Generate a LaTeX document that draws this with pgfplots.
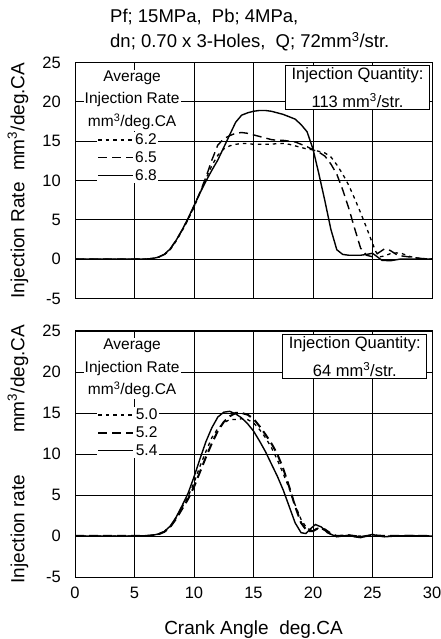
\documentclass[border=0pt]{standalone}
\usepackage{pgfplots}
\pgfplotsset{compat=1.18}
\usepackage{fontspec}
\setmainfont{Liberation Sans}
\newcommand{\tickfont}{\fontsize{16.5bp}{19bp}\selectfont}
\newcommand{\labfont}{\fontsize{19bp}{22bp}\selectfont}
\newcommand{\titfont}{\fontsize{18.5bp}{22bp}\selectfont}
\newcommand{\legfont}{\fontsize{15.5bp}{22.5bp}\selectfont}
\newcommand{\boxfont}{\fontsize{16.5bp}{28bp}\selectfont}
\pgfplotsset{
 myaxis/.style={
  scale only axis, width=357bp,
  xmin=0, xmax=30, ymin=-5, ymax=25,
  xtick={0,5,...,30}, ytick={-5,0,...,25},
  xmajorgrids=true, ymajorgrids=true,
  major grid style={black, line width=0.8bp},
  axis line style={black, line width=1bp},
  major tick length=0pt,
  every tick label/.append style={font=\tickfont},
  every y tick label/.append style={inner sep=0pt, anchor=east, xshift=-14bp},
  every x tick label/.append style={inner sep=0pt, anchor=north, yshift=-10bp},
  /pgf/number format/assume math mode=true,
  ylabel style={at={(axis description cs:-0.16,0.5)}, anchor=center, font=\labfont},
  xlabel style={at={(axis description cs:0.5,-0.215)}, anchor=center, font=\labfont},
  legend style={anchor=north west, draw=none, fill=white, font=\legfont,
     inner sep=0pt, row sep=2.5bp, nodes={inner sep=1.5bp}},
  legend image code/.code={\draw[#1] (0bp,0bp) -- (35bp,0bp);},
  legend cell align=left,
 },
 sdot/.style={black, line width=1.3bp, dash pattern=on 3.5bp off 4bp},
 sdash/.style={black, line width=1.4bp, dash pattern=on 9bp off 5bp},
 ssolid/.style={black, line width=1.4bp},
}
\begin{document}
\begin{tikzpicture}
\useasboundingbox (0,0) rectangle (441bp,639bp);
\node[anchor=west, font=\titfont, inner sep=0pt] at (110bp,622bp) {Pf; 15MPa,\ \ Pb; 4MPa,};
\node[anchor=west, font=\titfont, inner sep=0pt] at (110bp,597bp) {dn; 0.70 x 3-Holes,\ \ Q; 72mm\textsuperscript{3}/str.};
% top axis
\begin{axis}[myaxis, at={(75bp,340.5bp)}, anchor=south west, height=236bp,
  xticklabels={}, ylabel={Injection Rate\hspace{0.6em}mm\textsuperscript{3}/deg.CA},
  legend style={at={(axis description cs:0.062,0.705)}}]
\addplot[sdot] coordinates {(0,0)(5,0)(6,0.02)(6.5,0.08)(7,0.25)(7.5,0.55)(8,1.2)(8.5,2.3)(9,3.6)(9.5,5.0)(10,6.6)(10.5,8.4)(11,10.2)(11.5,11.9)(12,13.2)(12.5,14.0)(13,14.4)(13.5,14.6)(14,14.7)(14.5,14.7)(15,14.6)(15.5,14.6)(16,14.6)(16.5,14.6)(17,14.7)(17.5,14.7)(18,14.6)(18.5,14.4)(19,14.2)(19.5,14.0)(20,13.9)(20.5,13.7)(21,13.5)(21.5,13.0)(22,12.0)(22.5,10.8)(23,9.4)(23.5,7.7)(24,5.9)(24.5,4.0)(25,2.0)(25.3,0.9)(25.6,0.3)(26,0.4)(26.5,0.7)(27,0.8)(27.5,0.7)(28,0.4)(28.5,0.2)(29,0.1)(30,0)};
\addlegendentry{6.2}
\addplot[sdash] coordinates {(0,0)(5,0)(6,0.02)(6.5,0.08)(7,0.25)(7.5,0.6)(8,1.3)(8.5,2.4)(9,3.7)(9.5,5.1)(10,6.7)(10.5,8.5)(11,10.4)(11.5,12.6)(12,14.5)(12.5,15.3)(13,15.7)(13.5,16.0)(14,16.1)(14.5,16.0)(15,15.8)(15.5,15.6)(16,15.4)(16.5,15.2)(17,15.1)(17.5,15.1)(18,15.0)(18.5,14.9)(19,14.6)(19.5,14.3)(20,13.9)(20.5,13.6)(21,13.1)(21.5,12.1)(22,10.8)(22.5,8.8)(23,6.5)(23.5,3.9)(24,1.4)(24.5,0.5)(25,0.3)(25.5,0.8)(26,1.3)(26.5,1.1)(27,0.6)(27.5,0.4)(28,0.3)(29,0.1)(30,0)};
\addlegendentry{6.5}
\addplot[ssolid] coordinates {(0,0)(5,0)(6,0.02)(6.5,0.08)(7,0.25)(7.5,0.6)(8,1.3)(8.5,2.4)(9,3.7)(9.5,5.2)(10,6.8)(10.5,8.4)(11,9.9)(11.5,11.3)(12,12.6)(12.5,14.2)(13,15.8)(13.5,17.4)(14,18.3)(14.5,18.6)(15,18.8)(15.5,18.9)(16,18.9)(16.5,18.8)(17,18.6)(17.5,18.4)(18,18.1)(18.5,17.8)(19,17.1)(19.5,16.2)(20,14.0)(20.5,10.8)(21,7.4)(21.5,3.8)(22,1.2)(22.5,0.6)(23,0.5)(23.5,0.5)(24,0.5)(24.5,0.6)(25,0.75)(25.4,0.3)(25.8,-0.15)(26.5,-0.2)(27.3,0)(30,0)};
\addlegendentry{6.8}
\node[font=\legfont, align=center, fill=white, inner sep=1pt] at (axis cs:4.8,20.2) {Average\\Injection Rate\\mm\textsuperscript{3}/deg.CA};
\node[font=\boxfont, align=center, draw=black, line width=0.8bp, fill=white, anchor=north east, inner xsep=6bp, inner ysep=2bp] at (axis cs:29.83,24.65) {Injection Quantity:\\113 mm\textsuperscript{3}/str.};
\end{axis}
% bottom axis
\begin{axis}[myaxis, at={(75bp,62bp)}, anchor=south west, height=246bp,
  xlabel={Crank Angle\ \ deg.CA},
  ylabel={Injection rate\hspace{2.2em}mm\textsuperscript{3}/deg.CA},
  legend style={at={(axis description cs:0.062,0.691)}}]
\addplot[sdot] coordinates {(0,0)(5,0)(6,0.02)(6.5,0.08)(7,0.2)(7.5,0.5)(8,1.1)(8.5,2.2)(9,3.5)(9.5,4.8)(10,6.5)(10.5,8.5)(11,10.3)(11.5,12.0)(12,13.1)(12.5,13.8)(13,14.2)(13.5,14.2)(14,14.3)(14.5,14.2)(15,13.8)(15.5,13.0)(16,12.0)(16.5,10.8)(17,9.3)(17.5,7.6)(18,5.8)(18.5,3.8)(19,2.0)(19.5,0.9)(20,0.7)(20.5,1.0)(21,0.7)(21.5,0.2)(22,0)(30,0)};
\addlegendentry{5.0}
\addplot[sdash, line width=2bp] coordinates {(0,0)(5,0)(6,0.02)(6.5,0.08)(7,0.2)(7.5,0.5)(8,1.1)(8.5,2.1)(9,3.3)(9.5,4.5)(10,6.0)(10.5,7.8)(11,9.6)(11.5,11.3)(12,12.8)(12.5,13.9)(13,14.6)(13.5,15.0)(14,15.0)(14.5,14.8)(15,14.3)(15.5,13.4)(16,12.4)(16.5,11.3)(17,10.0)(17.5,8.2)(18,6.0)(18.5,3.6)(19,1.6)(19.5,0.6)(20,0.6)(20.5,1.0)(21,0.8)(21.5,0.3)(22,0)(23,0.1)(24,-0.1)(25,0.1)(26,0)(30,0)};
\addlegendentry{5.2}
\addplot[ssolid] coordinates {(0,0)(5,0)(6,0.02)(6.5,0.08)(7,0.25)(7.5,0.55)(8,1.2)(8.5,2.3)(9,3.7)(9.5,5.2)(10,7.2)(10.5,9.4)(11,11.5)(11.5,13.2)(12,14.5)(12.5,15.1)(13,15.2)(13.5,14.9)(14,14.4)(14.5,13.7)(15,12.8)(15.5,11.6)(16,10.3)(16.5,8.8)(17,7.3)(17.5,5.6)(18,3.6)(18.5,1.6)(19,0.4)(19.4,0.3)(19.8,0.9)(20.2,1.4)(20.7,1.1)(21.2,0.4)(22,-0.1)(22.5,0)(23,0.1)(23.5,-0.1)(24,-0.2)(24.5,0)(25,0.2)(25.5,0)(26,-0.1)(27,0)(28,0.05)(30,0)};
\addlegendentry{5.4}
\node[font=\legfont, align=center, fill=white, inner sep=1pt] at (axis cs:4.8,20.4) {Average\\Injection Rate\\mm\textsuperscript{3}/deg.CA};
\node[font=\boxfont, align=center, draw=black, line width=0.8bp, fill=white, anchor=north east, inner xsep=6bp, inner ysep=2bp] at (axis cs:29.6,24.6) {Injection Quantity:\\64 mm\textsuperscript{3}/str.};
\end{axis}
\end{tikzpicture}
\end{document}
